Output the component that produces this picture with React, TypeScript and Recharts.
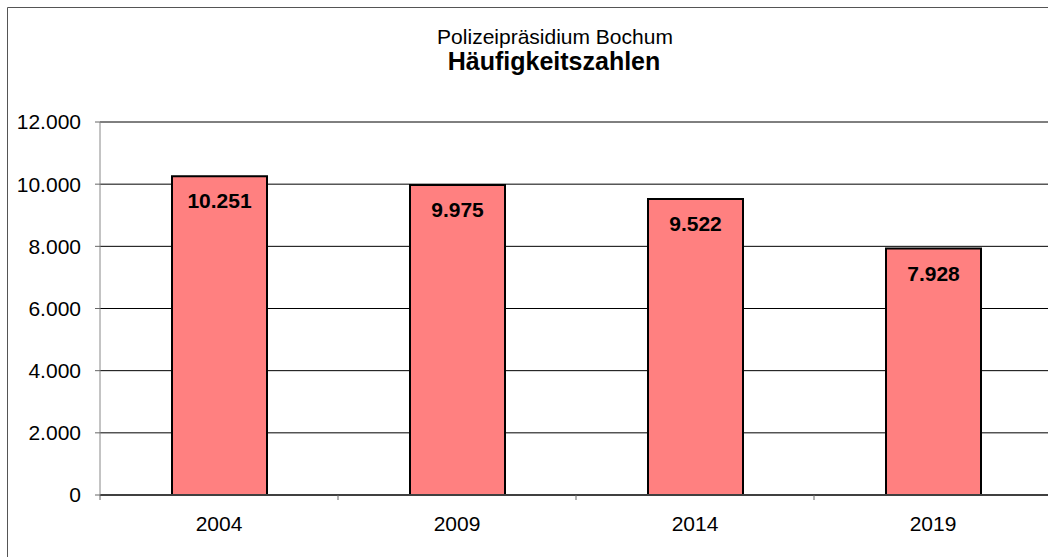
import React from "react";
import {
  BarChart,
  Bar,
  XAxis,
  YAxis,
  CartesianGrid,
  LabelList,
} from "recharts";

const years = ["2004", "2009", "2014", "2019"];
const values = [10251, 9975, 9522, 7928];
const yTicks = [0, 2000, 4000, 6000, 8000, 10000, 12000];
// category boundaries (tick marks) and centres (labels)
const xTicks = [0, 0.5, 1, 1.5, 2, 2.5, 3, 3.5, 4];

const font = "'Liberation Sans', Arial, sans-serif";

const data = years.map((year, i) => ({ year, value: values[i], pos: i + 0.5 }));

const fmt = (v: number) => v.toLocaleString("de-DE");

// value label drawn inside the top of each bar
const renderLabel = (props: any) => {
  const { x, y, width, value } = props;
  return (
    <text
      x={x + width / 2}
      y={y + 32}
      textAnchor="middle"
      fontFamily={font}
      fontWeight="bold"
      fontSize={21}
      fill="#000"
    >
      {fmt(value)}
    </text>
  );
};

// boundary ticks get a short mark, centre ticks get the year
const XTick = (props: any) => {
  const { x, y, payload } = props;
  const v = payload.value;
  if (Number.isInteger(v)) {
    return <line x1={x} x2={x} y1={y} y2={y + 5} stroke="#666" />;
  }
  return (
    <text
      x={x}
      y={y + 36}
      textAnchor="middle"
      fontFamily={font}
      fontSize={21}
      fill="#000"
    >
      {years[Math.floor(v)]}
    </text>
  );
};

export default function App() {
  return (
    <div
      style={{
        position: "absolute",
        left: 0,
        top: 0,
        width: 1048,
        height: 557,
        background: "#fff",
      }}
    >
      <div style={{ position: "absolute", left: 0, top: 0 }}>
        <BarChart
          width={1048}
          height={557}
          data={data}
          margin={{ top: 122, right: -4, bottom: 0, left: 0 }}
          style={{ overflow: "hidden" }}
        >
          <CartesianGrid horizontal vertical={false} stroke="#000" />
          <XAxis
            dataKey="pos"
            type="number"
            domain={[0, 4]}
            ticks={xTicks}
            interval={0}
            tickLine={false}
            tickSize={0}
            tickMargin={0}
            height={62}
            axisLine={{ stroke: "#404040", strokeWidth: 2 }}
            tick={<XTick />}
          />
          <YAxis
            domain={[0, 12000]}
            ticks={yTicks}
            tickFormatter={fmt}
            width={100}
            tickSize={5}
            tickMargin={14}
            tickLine={{ stroke: "#666" }}
            axisLine={{ stroke: "#888" }}
            tick={{ fill: "#000", fontSize: 21, fontFamily: font }}
          />
          <Bar
            dataKey="value"
            fill="#FF8080"
            stroke="#000"
            strokeWidth={2}
            barSize={95}
            isAnimationActive={false}
          >
            <LabelList dataKey="value" content={renderLabel} />
          </Bar>
        </BarChart>
      </div>
      <svg
        width={1048}
        height={557}
        style={{ position: "absolute", left: 0, top: 0, pointerEvents: "none" }}
      >
        <path d="M7.5 557 V7.5 H1048" fill="none" stroke="#555" />
        <text
          x={555}
          y={44}
          textAnchor="middle"
          fontFamily={font}
          fontSize={21}
          fill="#000"
        >
          Polizeipräsidium Bochum
        </text>
        <text
          x={554}
          y={70}
          textAnchor="middle"
          fontFamily={font}
          fontSize={25}
          fontWeight="bold"
          fill="#000"
        >
          Häufigkeitszahlen
        </text>
      </svg>
    </div>
  );
}
